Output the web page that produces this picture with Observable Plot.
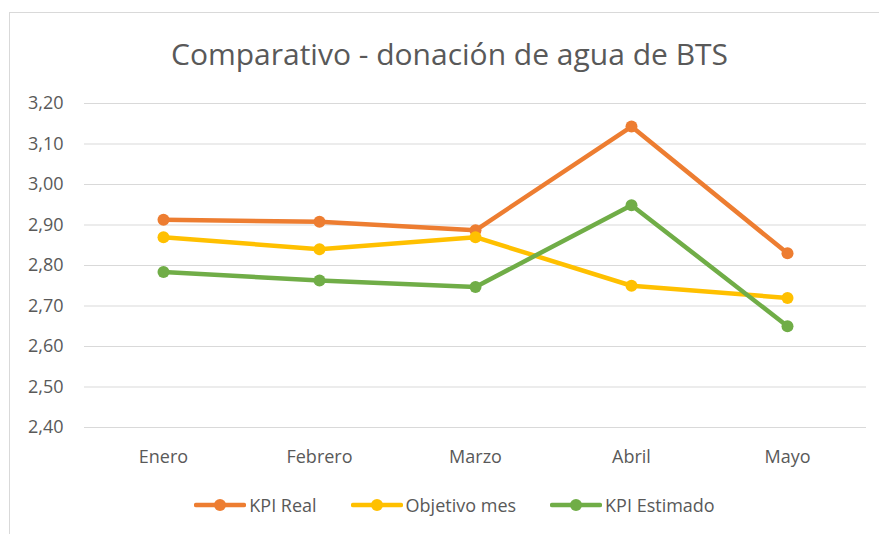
<!DOCTYPE html>
<html>
<head>
<meta charset="utf-8">
<script src="https://cdn.jsdelivr.net/npm/d3@7"></script>
<script src="https://cdn.jsdelivr.net/npm/@observablehq/plot@0.6"></script>
<style>
  html, body { margin: 0; padding: 0; background: #fff; }
  #wrap { position: relative; width: 879px; height: 534px; overflow: hidden; font-family: "Open Sans", sans-serif; color: #595959; }
  #frame { position: absolute; left: 9px; top: 12px; width: 900px; height: 560px; border: 1px solid #d9d9d9; box-sizing: border-box; }
  #title { position: absolute; left: 0; width: 899px; top: 39px; line-height: 30px; text-align: center; font-size: 30px; color: #595959; white-space: nowrap; }
  #chart { position: absolute; left: 0; top: 0; }
  #legend { position: absolute; left: 0; width: 909px; top: 492px; line-height: 26px; text-align: center; font-size: 18px; color: #595959; white-space: nowrap; }
  .item { display: inline-flex; align-items: center; margin: 0 17px; }
  .item svg { margin-right: 3px; }
</style>
</head>
<body>
<div id="wrap">
  <div id="frame"></div>
  <div id="chart"></div>
  <div id="title">Comparativo - donación de agua de BTS</div>
  <div id="legend"></div>
</div>
<script>
const months = ["Enero", "Febrero", "Marzo", "Abril", "Mayo"];
const kpiReal = [2.913, 2.908, 2.887, 3.143, 2.83];
const objetivoMes = [2.87, 2.84, 2.87, 2.75, 2.72];
const kpiEstimado = [2.784, 2.763, 2.747, 2.949, 2.65];
const yTicks = [2.4, 2.5, 2.6, 2.7, 2.8, 2.9, 3.0, 3.1, 3.2];
const seriesNames = ["KPI Real", "Objetivo mes", "KPI Estimado"];
const seriesColors = ["#ED7D31", "#FFC000", "#70AD47"];
const seriesValues = [kpiReal, objetivoMes, kpiEstimado];

const data = seriesNames.flatMap((s, i) => months.map((m, j) => ({serie: s, mes: m, valor: seriesValues[i][j]})));

const fmt = d => d.toFixed(2).replace(".", ",");

const marks = [
  Plot.gridY(yTicks, {stroke: "#d9d9d9", strokeOpacity: 1, strokeWidth: 1}),
  Plot.axisY(yTicks, {tickSize: 0, tickPadding: 21, tickFormat: fmt, fontSize: 18, fill: "#595959"}),
  Plot.axisX({tickSize: 0, tickPadding: 23, fontSize: 18, fill: "#595959"})
];
seriesNames.forEach((s, i) => {
  const d = data.filter(r => r.serie === s);
  marks.push(Plot.line(d, {x: "mes", y: "valor", stroke: seriesColors[i], strokeWidth: 4.5}));
  marks.push(Plot.dot(d, {x: "mes", y: "valor", fill: seriesColors[i], r: 6}));
});

const chart = Plot.plot({
  width: 879,
  height: 470,
  marginTop: 103,
  marginBottom: 43,
  marginLeft: 84,
  marginRight: 13,
  style: {fontFamily: "Open Sans, sans-serif", background: "transparent"},
  x: {type: "point", domain: months, padding: 0.5, label: null},
  y: {domain: [2.4, 3.2], label: null},
  marks
});
document.getElementById("chart").appendChild(chart);

const legend = document.getElementById("legend");
seriesNames.forEach((s, i) => {
  const span = document.createElement("span");
  span.className = "item";
  span.innerHTML = `<svg width="52" height="14"><line x1="2" y1="7" x2="50" y2="7" stroke="${seriesColors[i]}" stroke-width="4.5" stroke-linecap="round"/><circle cx="26" cy="7" r="6" fill="${seriesColors[i]}"/></svg>${s}`;
  legend.appendChild(span);
});
</script>
</body>
</html>
